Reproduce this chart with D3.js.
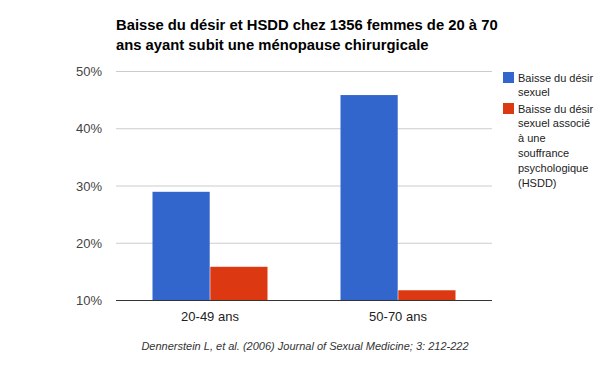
<!DOCTYPE html>
<html>
<head>
<meta charset="utf-8">
<script src="https://cdn.jsdelivr.net/npm/d3@7"></script>
<style>
  body { margin: 0; background: #fff; }
  svg { font-family: "Liberation Sans", Arial, sans-serif; display: block; }
</style>
</head>
<body>
<svg id="chart" width="607" height="372"></svg>
<script>
// data
var categories = ["20-49 ans", "50-70 ans"];
var seriesNames = ["Baisse du désir sexuel",
                   "Baisse du désir sexuel associé à une souffrance psychologique (HSDD)"];
var legendLines = [["Baisse du désir", "sexuel"],
                   ["Baisse du désir", "sexuel associé", "à une", "souffrance", "psychologique", "(HSDD)"]];
var desirValues = [28.9, 45.8];
var hsddValues = [15.8, 11.7];
var yTicks = [10, 20, 30, 40, 50];
var colors = ["#3366cc", "#dc3912"];
var titleLines = ["Baisse du désir et HSDD chez 1356 femmes de 20 à 70",
                  "ans ayant subit une ménopause chirurgicale"];
var source = "Dennerstein L, et al. (2006) Journal of Sexual Medicine; 3: 212-222";

var svg = d3.select("#chart");
// plot area (note: "top" is taken by window.top)
var plotLeft = 116, plotRight = 492, plotTop = 71, plotBottom = 300;

var x = d3.scaleBand().domain(categories).range([plotLeft, plotRight]);
var xs = d3.scaleBand().domain([0, 1])
    .range([0, 115]).paddingInner(0.01);
var y = d3.scaleLinear().domain([10, 50]).range([plotBottom, plotTop]);

// gridlines + tick labels
var yAxis = d3.axisLeft(y).tickValues(yTicks)
    .tickSize(-(plotRight - plotLeft)).tickPadding(14)
    .tickFormat(function(d) { return d + "%"; });
var gy = svg.append("g").attr("transform", "translate(" + plotLeft + ",0)").call(yAxis);
gy.select(".domain").remove();
gy.selectAll("line").attr("stroke", "#cccccc");
gy.selectAll("text").attr("fill", "#444").style("font-size", "13px")
    .style("font-family", "Liberation Sans, Arial, sans-serif")
    .attr("x", -14).attr("dy", "0.35em");

// bars
var rows = categories.map(function(c, i) { return [desirValues[i], hsddValues[i]]; });
var groups = svg.append("g").selectAll("g")
    .data(rows)
  .enter().append("g")
    .attr("transform", function(d, i) {
      return "translate(" + (x(categories[i]) + (x.bandwidth() - 115) / 2) + ",0)";
    });
groups.selectAll("rect")
    .data(function(d) { return d; })
  .enter().append("rect")
    .attr("x", function(d, j) { return xs(j); })
    .attr("width", xs.bandwidth())
    .attr("y", function(d) { return y(d); })
    .attr("height", function(d) { return y(10) - y(d); })
    .attr("fill", function(d, j) { return colors[j]; });

// baseline
svg.append("line")
    .attr("x1", plotLeft).attr("x2", plotRight)
    .attr("y1", y(10) + 0.5).attr("y2", y(10) + 0.5)
    .attr("stroke", "#333").attr("stroke-width", 1);

// category labels
var xAxis = d3.axisBottom(x).tickSize(0).tickPadding(12);
var gx = svg.append("g").attr("transform", "translate(0," + plotBottom + ")").call(xAxis);
gx.select(".domain").remove();
gx.selectAll("text").attr("fill", "#222").style("font-size", "13px")
    .style("font-family", "Liberation Sans, Arial, sans-serif");

// title
svg.append("text")
    .attr("x", 116).attr("y", 30)
    .style("font-size", "14.8px").style("font-weight", "bold").attr("fill", "#000")
  .selectAll("tspan").data(titleLines)
  .enter().append("tspan")
    .attr("x", 116).attr("dy", function(d, i) { return i ? 20 : 0; })
    .text(function(d) { return d; });

// legend
var legendTop = [72, 103];
var legend = svg.append("g").selectAll("g")
    .data(seriesNames)
  .enter().append("g")
    .attr("transform", function(d, i) { return "translate(503," + legendTop[i] + ")"; });
legend.append("rect")
    .attr("width", 11).attr("height", 11)
    .attr("fill", function(d, i) { return colors[i]; });
legend.append("text")
    .attr("fill", "#222").style("font-size", "11px")
  .selectAll("tspan").data(function(d, i) { return legendLines[i]; })
  .enter().append("tspan")
    .attr("x", 15).attr("y", function(d, k) { return 9.5 + k * 14.8; })
    .text(function(d) { return d; });

// source note
svg.append("text")
    .attr("x", 305).attr("y", 350)
    .attr("text-anchor", "middle")
    .style("font-size", "11px").style("font-style", "italic")
    .attr("fill", "#333")
    .text(source);
</script>
</body>
</html>
